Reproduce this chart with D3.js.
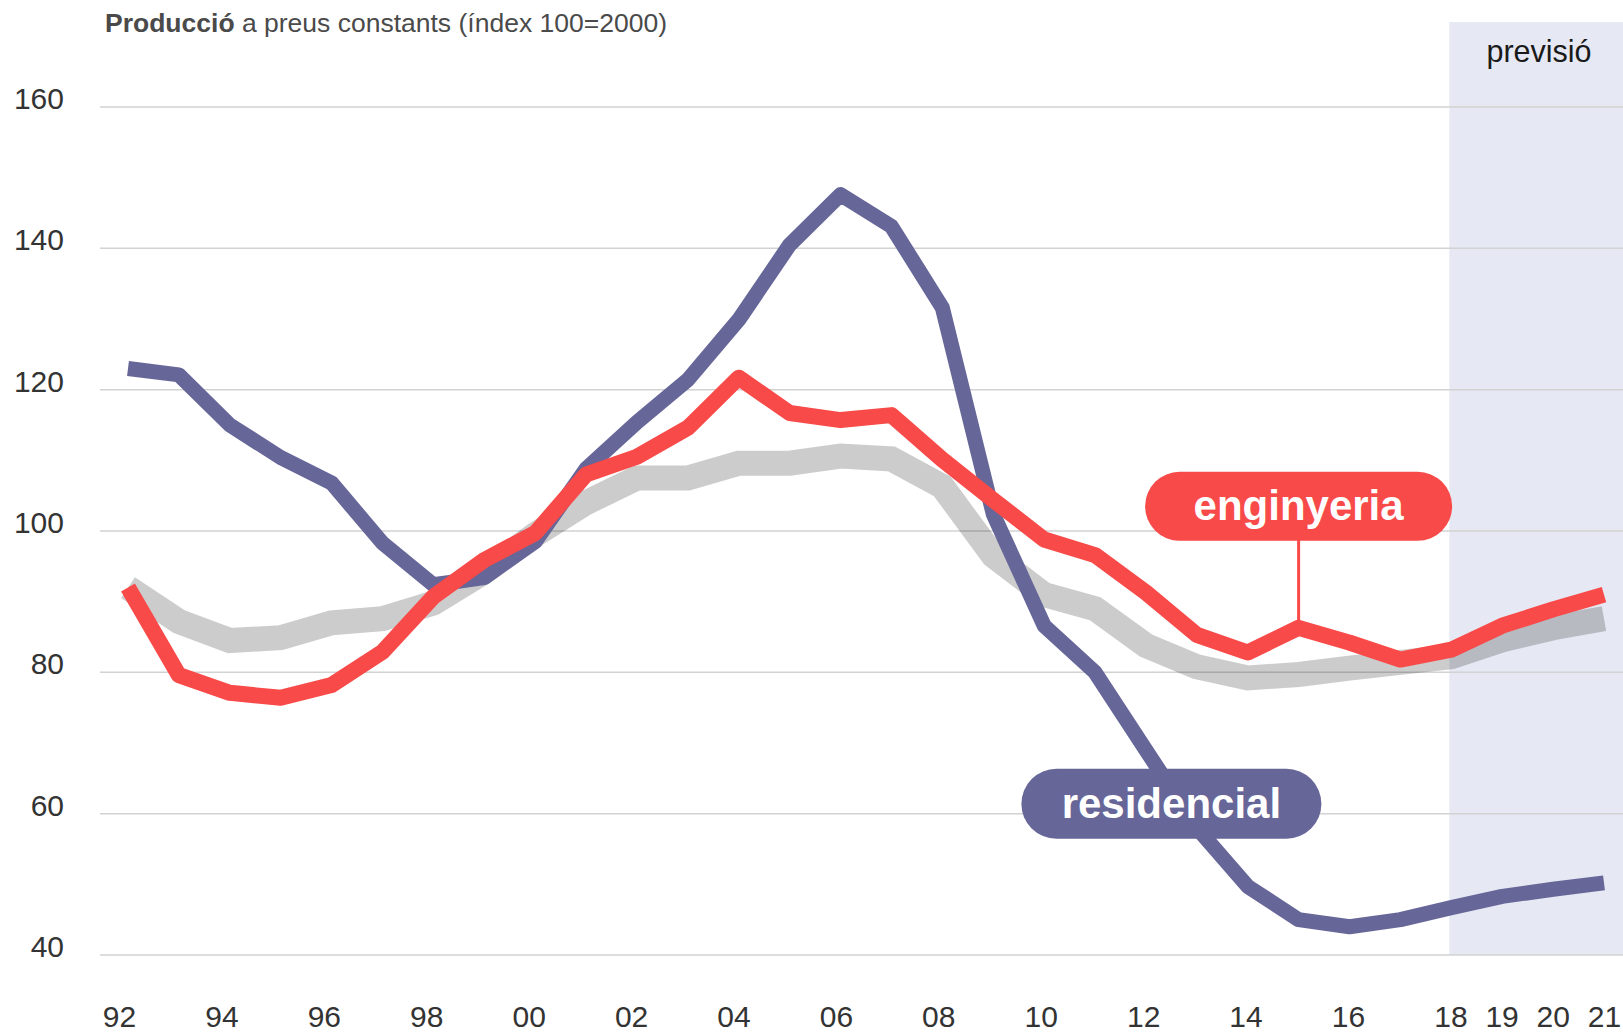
<!DOCTYPE html>
<html>
<head>
<meta charset="utf-8">
<script src="https://cdn.jsdelivr.net/npm/d3@7"></script>
<style>
  body { margin: 0; background: #fff; }
  svg { display: block; font-family: "Liberation Sans", Arial, sans-serif; }
</style>
</head>
<body>
<svg id="chart" width="1623" height="1032"></svg>
<script>
// data (index 100 = 2000)
const years = [1992, 1993, 1994, 1995, 1996, 1997, 1998, 1999, 2000, 2001,
  2002, 2003, 2004, 2005, 2006, 2007, 2008, 2009, 2010, 2011,
  2012, 2013, 2014, 2015, 2016, 2017, 2018, 2019, 2020, 2021];
const residencial = [123, 122.1, 115, 110.4, 106.8, 98.3, 92.4, 93.4, 98.5, 108.8,
  115.4, 121.4, 129.9, 140.5, 147.6, 143.1, 131.6, 102.4, 86.6, 80,
  69, 58, 49.7, 45, 44, 45, 46.7, 48.3, 49.3, 50.2];
const enginyeria = [92, 79.6, 77.1, 76.4, 78.2, 82.9, 90.7, 95.9, 99.7, 108,
  110.5, 114.6, 121.7, 116.7, 115.7, 116.4, 110.1, 104.4, 98.8, 96.6,
  91.3, 85.3, 82.8, 86.3, 84.2, 81.8, 83.2, 86.6, 88.9, 91];
const total = [92, 87.2, 84.5, 84.9, 87, 87.6, 89.8, 94.2, 99.5, 104,
  107.5, 107.5, 109.6, 109.6, 110.6, 110.2, 106.3, 96.5, 91, 89,
  83.8, 80.8, 79.2, 79.7, 80.6, 81.4, 82.2, 84.6, 86.3, 87.6];

const xTickYears = [1992, 1994, 1996, 1998, 2000, 2002, 2004, 2006, 2008, 2010,
  2012, 2014, 2016, 2018, 2019, 2020, 2021];
const xTickLabels = ['92', '94', '96', '98', '00', '02', '04', '06', '08', '10',
  '12', '14', '16', '18', '19', '20', '21'];
const yTicks = [40, 60, 80, 100, 120, 140, 160];
const forecastStart = 2018;

const svg = d3.select('#chart');
const W = 1623;

const x = d3.scaleLinear().domain([1992, 2021]).range([128, 1604]);
// the year labels sit a little to the left of the points at the start
const xLab = d3.scaleLinear().domain([1992, 2021]).range([119, 1604]);
const y = d3.scaleLinear().domain([40, 160]).range([955, 107]);

// forecast shading
svg.append('rect')
  .attr('x', x(forecastStart) - 2)
  .attr('y', 22)
  .attr('width', W - x(forecastStart) + 2)
  .attr('height', y(40) - 22)
  .attr('fill', '#e6e9f3');

svg.append('text')
  .attr('x', 1539)
  .attr('y', 62)
  .attr('text-anchor', 'middle')
  .style('font-size', '30.5px')
  .attr('fill', '#1a1a1a')
  .text('previsió');

// gridlines + y labels
const grid = svg.append('g');
grid.selectAll('line')
  .data(yTicks)
  .enter().append('line')
  .attr('x1', 100).attr('x2', W)
  .attr('y1', d => y(d)).attr('y2', d => y(d))
  .attr('stroke', '#d2d2d2')
  .attr('stroke-width', 1.5);

grid.selectAll('text')
  .data(yTicks)
  .enter().append('text')
  .attr('x', 64)
  .attr('y', d => y(d) + 2)
  .attr('text-anchor', 'end')
  .style('font-size', '30px')
  .attr('fill', '#333')
  .text(d => d);

// x axis labels
const xAxis = d3.axisBottom(xLab)
  .tickValues(xTickYears)
  .tickFormat((d, i) => xTickLabels[i])
  .tickSize(0);
const xg = svg.append('g')
  .attr('transform', 'translate(0, 1000)')
  .call(xAxis);
xg.select('.domain').remove();
xg.selectAll('text')
  .attr('dy', 0)
  .attr('y', 27)
  .style('font-size', '30px')
  .style('font-family', '"Liberation Sans", Arial, sans-serif')
  .attr('fill', '#333');

// title
const title = svg.append('text')
  .attr('x', 105)
  .attr('y', 32)
  .style('font-size', '26.5px')
  .attr('fill', '#4a4a4a');
title.append('tspan').style('font-weight', 'bold').text('Producció');
title.append('tspan').text(' a preus constants (índex 100=2000)');

// lines
const line = d3.line()
  .x((d, i) => x(years[i]))
  .y(d => y(d));

svg.append('path')
  .datum(total)
  .attr('d', line)
  .attr('fill', 'none')
  .attr('stroke', 'rgba(0,0,0,0.2)')
  .attr('stroke-width', 25)
  .attr('stroke-linejoin', 'miter');

svg.append('path')
  .datum(residencial)
  .attr('d', line)
  .attr('fill', 'none')
  .attr('stroke', '#666699')
  .attr('stroke-width', 15)
  .attr('stroke-linejoin', 'round');

svg.append('path')
  .datum(enginyeria)
  .attr('d', line)
  .attr('fill', 'none')
  .attr('stroke', '#f84a48')
  .attr('stroke-width', 16)
  .attr('stroke-linejoin', 'round');

// labels (pills)
function pill(cx, cy, w, h, fill, label) {
  const g = svg.append('g');
  g.append('rect')
    .attr('x', cx - w / 2).attr('y', cy - h / 2)
    .attr('width', w).attr('height', h)
    .attr('rx', h / 2).attr('ry', h / 2)
    .attr('fill', fill);
  g.append('text')
    .attr('x', cx).attr('y', cy + 14)
    .attr('text-anchor', 'middle')
    .style('font-size', '42px')
    .style('font-weight', 'bold')
    .attr('fill', '#fff')
    .text(label);
}

// connector from engineering label to the 2015 point
const iLab = years.indexOf(2015);
svg.append('line')
  .attr('x1', x(2015)).attr('x2', x(2015))
  .attr('y1', y(103.5)).attr('y2', y(enginyeria[iLab]))
  .attr('stroke', '#f84a48')
  .attr('stroke-width', 3);

pill(x(2015), y(103.5), 307, 69, '#f84a48', 'enginyeria');
pill(x(2012.5), y(61.4), 300, 70, '#666699', 'residencial');
</script>
</body>
</html>
